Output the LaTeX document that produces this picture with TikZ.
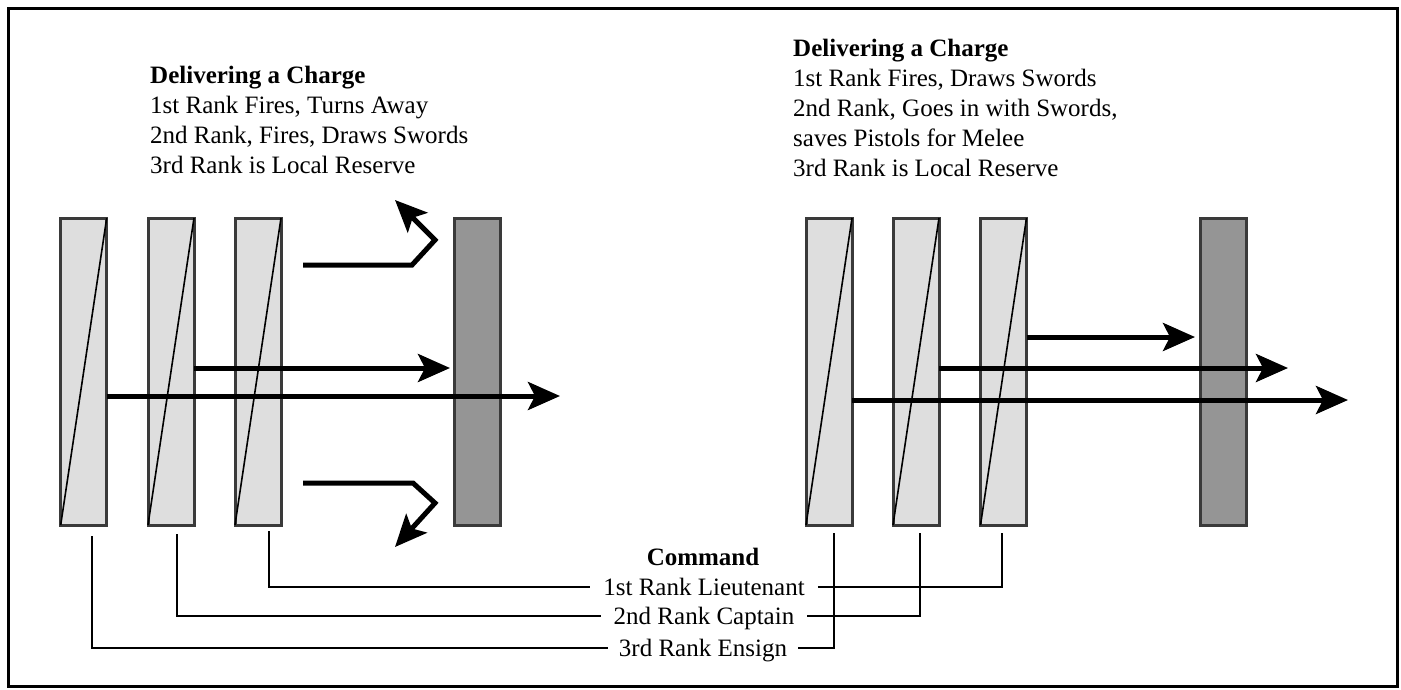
\documentclass[tikz,border=0pt]{standalone}
\usepackage{fontspec}
\setmainfont{Liberation Serif}
\usetikzlibrary{arrows.meta,calc}
\definecolor{rankfill}{HTML}{DEDEDE}
\definecolor{enemyfill}{HTML}{959595}
\definecolor{edgegrey}{HTML}{3A3A3A}
\begin{document}
\begin{tikzpicture}[x=1pt,y=-1pt,
  rankbox/.style={draw=edgegrey,line width=3pt,fill=rankfill,minimum width=46pt,minimum height=307pt,inner sep=0pt,outer sep=0pt},
  enemybox/.style={rankbox,fill=enemyfill},
  diag/.style={line width=1.6pt},
  move/.style={line width=5pt,-{Stealth[length=32pt,width=28pt,inset=7pt]}},
  cmdline/.style={line width=2pt},
  txt/.style={font=\fontsize{25}{30}\selectfont,align=left,inner sep=0pt},
  lbl/.style={font=\fontsize{25}{30}\selectfont,inner sep=0pt,minimum height=20pt,text depth=0pt}
]
\useasboundingbox (0,0) rectangle (1401,689);
\draw[line width=3pt] (8,8) rectangle (1397,686);

% headings
\node[txt,anchor=north west] (hl) at (150,66) {\textbf{Delivering a Charge}\\1st Rank Fires, Turns Away\\2nd Rank, Fires, Draws Swords\\3rd Rank is Local Reserve};
\node[txt,anchor=north west] (hr) at (793,39) {\textbf{Delivering a Charge}\\1st Rank Fires, Draws Swords\\2nd Rank, Goes in with Swords,\\saves Pistols for Melee\\3rd Rank is Local Reserve};

% left formation
\node[rankbox] (L1) at (83.7,371.5) {};
\node[rankbox] (L2) at (171,371.5) {};
\node[rankbox] (L3) at (258,371.5) {};
\node[enemybox] (LE) at (477.5,371.5) {};
\foreach \r in {L1,L2,L3} \draw[diag] (\r.south west) -- (\r.north east);

% right formation
\node[rankbox] (R1) at (829,371.5) {};
\node[rankbox] (R2) at (916,371.5) {};
\node[rankbox] (R3) at (1003.5,371.5) {};
\node[enemybox] (RE) at (1223,371.5) {};
\foreach \r in {R1,R2,R3} \draw[diag] (\r.south west) -- (\r.north east);

% left arrows
\coordinate (la1) at (450,368);
\coordinate (la2) at (560,396);
\draw[move] (L2.east |- la1) -- (la1);
\draw[move] (L1.east |- la2) -- (la2);
\coordinate (ua0) at (303,265);
\coordinate (ua1) at (412,265);
\coordinate (ua2) at (435,240);
\coordinate (ua3) at (395,200);
\draw[move,line join=miter] (ua0) -- (ua1) -- (ua2) -- (ua3);
\coordinate (da0) at (303,483);
\coordinate (da1) at (413,483);
\coordinate (da2) at (435,503);
\coordinate (da3) at (395,547);
\draw[move,line join=miter] (da0) -- (da1) -- (da2) -- (da3);

% right arrows
\coordinate (ra1) at (1195,337);
\coordinate (ra2) at (1288,368);
\coordinate (ra3) at (1348,400);
\draw[move] (R3.east |- ra1) -- (ra1);
\draw[move] (R2.east |- ra2) -- (ra2);
\draw[move] (R1.east |- ra3) -- (ra3);

% command labels
\node[lbl,font=\fontsize{25}{30}\selectfont\bfseries] (cmd) at (703,557) {Command};
\node[lbl,inner xsep=13pt] (lt) at (704,587) {1st Rank Lieutenant};
\node[lbl,inner xsep=13pt] (cp) at (704,616) {2nd Rank Captain};
\node[lbl,inner xsep=11pt] (en) at (703,648) {3rd Rank Ensign};

% command connectors
\coordinate (l1t) at ($(L1.south)+(8.5,11)$);
\coordinate (l2t) at ($(L2.south)+(6,9)$);
\coordinate (l3t) at ($(L3.south)+(11,6)$);
\draw[cmdline] (l1t) |- (en.west);
\draw[cmdline] (l2t) |- (cp.west);
\draw[cmdline] (l3t) |- (lt.west);
\coordinate (r1t) at ($(R1.south)+(5,8)$);
\coordinate (r2t) at ($(R2.south)+(4,8)$);
\coordinate (r3t) at ($(R3.south)+(-2,8)$);
\draw[cmdline] (en.east) -| (r1t);
\draw[cmdline] (cp.east) -| (r2t);
\draw[cmdline] (lt.east) -| (r3t);
\end{tikzpicture}
\end{document}
